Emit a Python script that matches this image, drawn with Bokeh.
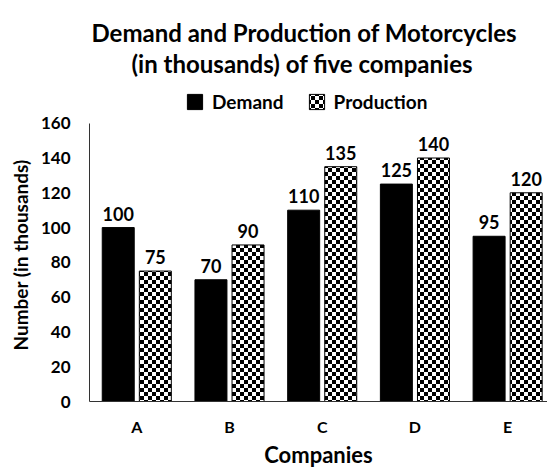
import zlib, struct, base64
from bokeh.plotting import figure
from bokeh.models import (ColumnDataSource, Range1d, FixedTicker, LabelSet, Legend,
                          LegendItem, Title, ImageURLTexture)
from bokeh.core.properties import value
from bokeh.embed import file_html
from bokeh.resources import INLINE

companies = ["A", "B", "C", "D", "E"]
demand = [100, 70, 110, 125, 95]
production = [75, 90, 135, 140, 120]
y_ticks = [0, 20, 40, 60, 80, 100, 120, 140, 160]

FONT = "Lato"


def checker_png(cell=4):
    n = cell * 2
    rows = b""
    for r in range(n):
        row = b"\x00"
        for c in range(n):
            black = ((r // cell) + (c // cell)) % 2 == 0
            row += b"\x00\x00\x00\xff" if black else b"\xff\xff\xff\xff"
        rows += row

    def chunk(t, d):
        return struct.pack(">I", len(d)) + t + d + struct.pack(">I", zlib.crc32(t + d) & 0xffffffff)
    png = b"\x89PNG\r\n\x1a\n" + chunk(b"IHDR", struct.pack(">IIBBBBB", n, n, 8, 6, 0, 0, 0)) \
        + chunk(b"IDAT", zlib.compress(rows)) + chunk(b"IEND", b"")
    return "data:image/png;base64," + base64.b64encode(png).decode()


idx = list(range(len(companies)))
src = ColumnDataSource(dict(
    xd=[i - 0.2 for i in idx],
    xp=[i + 0.2 for i in idx],
    demand=demand,
    production=production,
    demand_s=[str(v) for v in demand],
    production_s=[str(v) for v in production],
))

TOP = 77
p = figure(width=547, height=470, x_range=Range1d(-0.51, 4.43),
           y_range=Range1d(0, 160 + (123 - TOP) / 1.75),
           output_backend="svg", toolbar_location=None,
           min_border_left=88, min_border_right=0, min_border_top=TOP, min_border_bottom=67)
p.xgrid.visible = False
p.ygrid.visible = False
p.outline_line_color = None

checker = ImageURLTexture(url=checker_png(4))

r1 = p.vbar(x="xd", top="demand", width=0.345, source=src,
            fill_color="black", line_color="black")
r2 = p.vbar(x="xp", top="production", width=0.345, source=src,
            fill_color="white", line_color="black", line_width=1,
            hatch_pattern=value("checker"), hatch_extra={"checker": checker},
            hatch_color="black")

for xf, yf, tf in [("xd", "demand", "demand_s"), ("xp", "production", "production_s")]:
    p.add_layout(LabelSet(x=xf, y=yf, text=tf, source=src, y_offset=7,
                          text_align="center", text_baseline="bottom",
                          text_font=value(FONT), text_font_style="bold",
                          text_font_size="18px", text_color="black"))

# axes
p.yaxis.ticker = FixedTicker(ticks=y_ticks)
p.yaxis.bounds = (0, 160)
p.xaxis.ticker = FixedTicker(ticks=idx)
p.xaxis.major_label_overrides = {i: c for i, c in zip(idx, companies)}
for ax in (p.xaxis[0], p.yaxis[0]):
    ax.major_tick_line_color = None
    ax.minor_tick_line_color = None
    ax.major_tick_out = 0
    ax.major_tick_in = 0
    ax.axis_line_color = "#333333"
    ax.major_label_text_font = FONT
    ax.major_label_text_font_style = "bold"
    ax.major_label_text_color = "black"
    ax.axis_label_text_font = FONT
    ax.axis_label_text_font_style = "bold"
    ax.axis_label_text_color = "black"
p.xaxis.axis_label_text_font_size = "22px"
p.yaxis.major_label_text_font_size = "17px"
p.xaxis.major_label_text_font_size = "16px"
p.yaxis.major_label_standoff = 19
p.xaxis.major_label_standoff = 15
p.xaxis.axis_label = "Companies"
p.xaxis.axis_label_standoff = 2

# y-axis title, placed along the 0..160 part of the axis
p.add_layout(Title(text="Number (in thousands)", align="left", offset=51,
                   text_font=FONT, text_font_style="bold", text_font_size="19px",
                   text_color="black", standoff=12), "left")

legend = Legend(items=[LegendItem(label="Demand", renderers=[r1]),
                       LegendItem(label="Production", renderers=[r2])],
                orientation="horizontal", location=(96, 288),
                border_line_color=None, background_fill_alpha=0,
                label_text_font=FONT, label_text_font_style="bold",
                label_text_color="black",
                label_text_font_size="19px", glyph_width=19, glyph_height=19,
                label_standoff=8, spacing=23, padding=2, margin=0)
p.add_layout(legend)

p.add_layout(Title(text="(in thousands) of five companies", align="left", offset=42,
                   text_font=FONT, text_font_style="bold", text_font_size="24px",
                   text_color="black", standoff=0), "above")
p.add_layout(Title(text="Demand and Production of Motorcycles", align="left", offset=2,
                   text_font=FONT, text_font_style="bold", text_font_size="24px",
                   text_color="black", standoff=0), "above")

open("out.html", "w").write(file_html(p, INLINE))
